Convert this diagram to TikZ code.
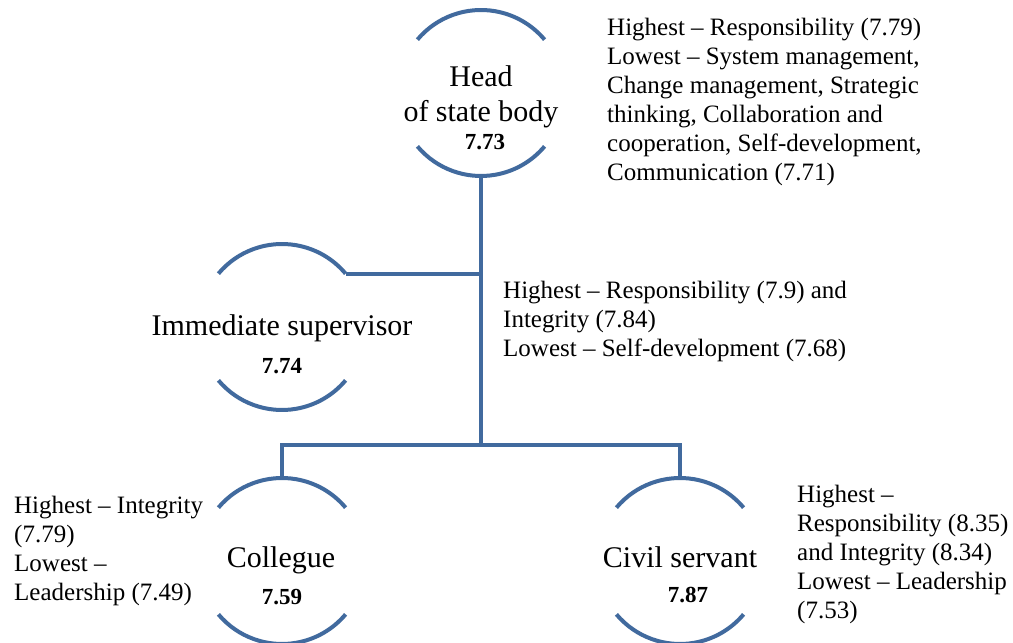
\documentclass[tikz,border=0pt]{standalone}
\usepackage{fontspec}
\setmainfont{Liberation Serif}
\usetikzlibrary{backgrounds}
\definecolor{orgblue}{RGB}{65,106,158}

\begin{document}
\begin{tikzpicture}[
    x=1pt, y=1pt,
    background rectangle/.style={fill=white}, inner frame sep=0pt, show background rectangle,
    unit/.style={circle, minimum size=166pt, inner sep=0pt, outer sep=0pt},
    arcline/.style={draw=orgblue, line width=4pt},
    branch/.style={draw=orgblue, line width=4pt},
    unitname/.style={anchor=base, align=center, inner sep=0pt, font=\fontsize{30}{35}\selectfont},
    score/.style={anchor=base, inner sep=0pt, font=\fontsize{23}{27}\selectfont\bfseries},
    note/.style={anchor=base west, align=left, inner sep=0pt, font=\fontsize{25}{29}\selectfont}]

    \useasboundingbox (0,0) rectangle (1013,643);

    % the four units, each one a pair of arcs
    \node[unit] at (481,550) (head) {};
    \node[unit] at (282,316) (sup) {};
    \node[unit] at (282,82) (col) {};
    \node[unit] at (680,82) (civ) {};
    \foreach \n in {head,sup,col,civ} {
        \draw[arcline] (\n.140) arc[start angle=140, end angle=40, radius=83];
        \draw[arcline] (\n.-140) arc[start angle=-140, end angle=-40, radius=83];
    }

    % names and scores (base of a multi-line node is its last line)
    \node[unitname] at (481,521) (headname) {Head\\of state body};
    \node[score] at (485,493) (headscore) {7.73};
    \node[unitname] at (282,307) (supname) {Immediate supervisor};
    \node[score] at (282,269) (supscore) {7.74};
    \node[unitname] at (281,75) (colname) {Collegue};
    \node[score] at (282,38) (colscore) {7.59};
    \node[unitname] at (680,75) (civname) {Civil servant};
    \node[score] at (688,40) (civscore) {7.87};

    % branches
    \coordinate (hub) at (481,198);
    \draw[branch] (head.south) -- (hub);
    \draw[branch] (sup.40) -- (sup.40 -| head.south);
    \draw[branch] (col.north) |- (hub) -| (civ.north);

    % highest and lowest scores
    \node[note] at (607,462) (headnote) {Highest – Responsibility (7.79)\\Lowest – System management,\\Change management, Strategic\\thinking, Collaboration and\\cooperation, Self-development,\\Communication (7.71)};
    \node[note] at (503,286) (supnote) {Highest – Responsibility (7.9) and\\Integrity (7.84)\\Lowest – Self-development (7.68)};
    \node[note] at (14,42) (colnote) {Highest – Integrity\\(7.79)\\Lowest –\\Leadership (7.49)};
    \node[note] at (797,24) (civnote) {Highest –\\Responsibility (8.35)\\and Integrity (8.34)\\Lowest – Leadership\\(7.53)};

\end{tikzpicture}
\end{document}
